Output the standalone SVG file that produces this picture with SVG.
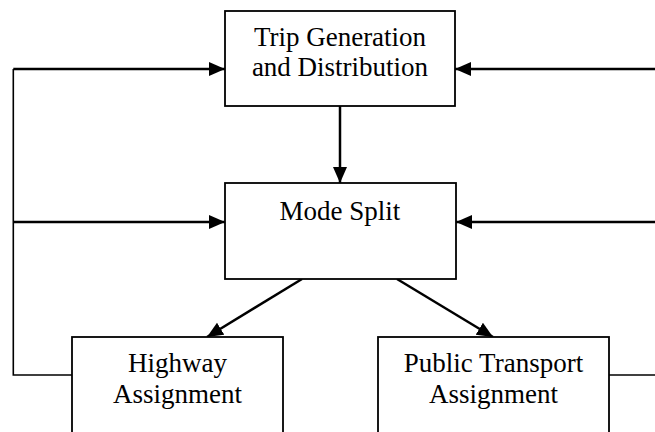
<svg xmlns="http://www.w3.org/2000/svg" width="655" height="432" viewBox="0 0 655 432">
<defs>
<marker id="ah" markerUnits="userSpaceOnUse" markerWidth="17" markerHeight="15" refX="16" refY="7" orient="auto">
<path d="M0,0 L16,7 L0,14 z" fill="#000"/>
</marker>
<style>
.box{fill:#fff;stroke:#000;stroke-width:1.8}
.lbl{font-family:"Liberation Serif","Times New Roman",serif;font-size:27px;fill:#000;text-anchor:middle}
.arr{fill:none;stroke:#000;stroke-width:2.5;marker-end:url(#ah)}
.thin{fill:none;stroke:#000;stroke-width:1.6}
</style>
</defs>
<rect width="655" height="432" fill="#fff"/>
<g id="connectors">
<polyline class="thin" points="72,375 13.3,375 13.3,69"/>
<line class="arr" x1="13.3" y1="69" x2="225" y2="69"/>
<line class="arr" x1="13.3" y1="222" x2="225" y2="222"/>
<line class="arr" x1="655" y1="69" x2="455" y2="69"/>
<line class="arr" x1="655" y1="222" x2="456" y2="222"/>
<line class="thin" x1="609" y1="375" x2="655" y2="375"/>
<line class="arr" x1="340" y1="106" x2="340" y2="183"/>
<line class="arr" x1="302" y1="279" x2="207" y2="337"/>
<line class="arr" x1="397" y1="279" x2="493" y2="337"/>
</g>
<g id="trip">
<rect class="box" x="225" y="11" width="230" height="95"/>
<text class="lbl" x="340" y="46">Trip Generation</text>
<text class="lbl" x="340" y="76">and Distribution</text>
</g>
<g id="mode">
<rect class="box" x="225" y="183" width="231" height="96"/>
<text class="lbl" x="340" y="220">Mode Split</text>
</g>
<g id="highway">
<rect class="box" x="72" y="337" width="211" height="110"/>
<text class="lbl" x="177.5" y="372">Highway</text>
<text class="lbl" x="177.5" y="403">Assignment</text>
</g>
<g id="public">
<rect class="box" x="378" y="337" width="231" height="110"/>
<text class="lbl" x="493.5" y="372">Public Transport</text>
<text class="lbl" x="493.5" y="403">Assignment</text>
</g>
</svg>
